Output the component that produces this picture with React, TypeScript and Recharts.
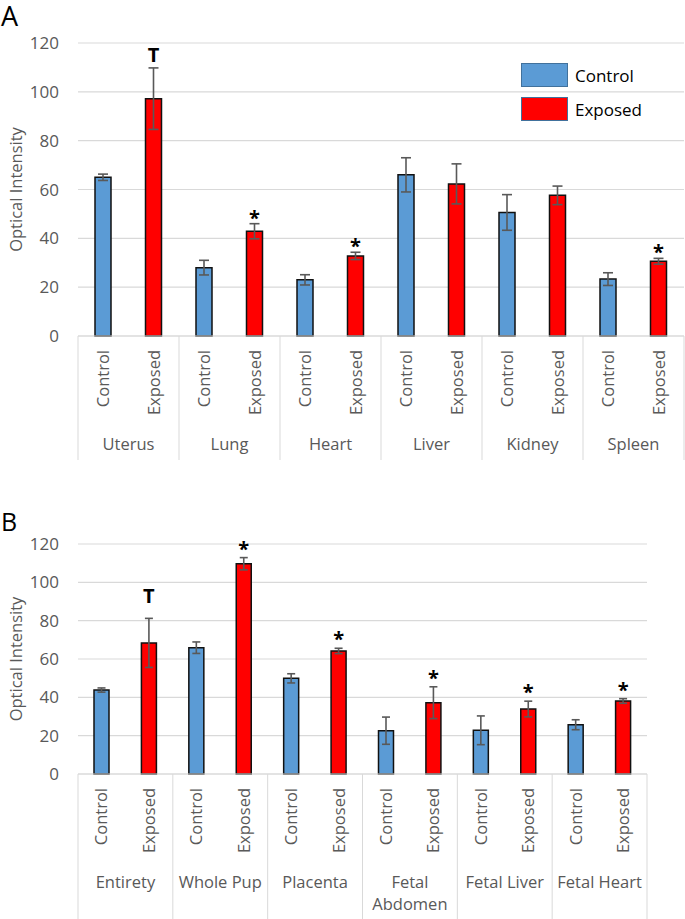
import React from "react";
import {
  BarChart,
  Bar,
  XAxis,
  YAxis,
  CartesianGrid,
  ErrorBar,
  LabelList,
} from "recharts";

const FONT = "'Open Sans', sans-serif";
const BLUE = "#5b9bd5";
const RED = "#ff0000";
const GRID = "#d9d9d9";
const TEXT = "#595959";

// series names (also used as the sub-category labels)
const seriesNames = ["Control", "Exposed"];
const yTicks = [0, 20, 40, 60, 80, 100, 120];

// panel A
const groupsA = ["Uterus", "Lung", "Heart", "Liver", "Kidney", "Spleen"];
const controlA = [65, 28, 23, 66, 50.6, 23.3];
const controlErrA = [1.3, 3, 2.1, 7, 7.3, 2.6];
const exposedA = [97.2, 42.9, 32.8, 62.3, 57.6, 30.6];
const exposedErrA = [12.6, 3.1, 1.5, 8.2, 3.8, 1.2];
const marksA = ["T", "*", "*", "", "", "*"];

// panel B
const groupsB = ["Entirety", "Whole Pup", "Placenta", "Fetal Abdomen", "Fetal Liver", "Fetal Heart"];
const controlB = [43.8, 65.9, 49.9, 22.6, 22.8, 25.7];
const controlErrB = [1.1, 3, 2.4, 7.1, 7.5, 2.6];
const exposedB = [68.4, 109.7, 64.2, 37.2, 33.9, 38.1];
const exposedErrB = [12.8, 3.2, 1.4, 8.3, 4.1, 1.2];
const marksB = ["T", "*", "*", "*", "*", "*"];

const makeTick = (band: number, lineLen: number) => (props: any) => {
  const { x, y, payload, index } = props;
  const name: string = payload.value;
  const lines = name.length > 12 ? name.split(" ") : [name];
  return (
    <g>
      {seriesNames.map((s, k) => {
        const cx = x + (k === 0 ? -band / 4 : band / 4);
        return (
          <text
            key={s}
            transform={`translate(${cx},${y + 14}) rotate(-90)`}
            textAnchor="end"
            dy="0.35em"
            fontSize={16.5}
            fontFamily={FONT}
            fill={TEXT}
          >
            {s}
          </text>
        );
      })}
      {lines.map((ln, k) => (
        <text
          key={ln}
          x={x}
          y={y + 114 + k * 22}
          textAnchor="middle"
          fontSize={16.5}
          fontFamily={FONT}
          fill={TEXT}
        >
          {ln}
        </text>
      ))}
      {index === 0 && (
        <line x1={x - band / 2} x2={x - band / 2} y1={y} y2={y + lineLen} stroke={GRID} />
      )}
      <line x1={x + band / 2} x2={x + band / 2} y1={y} y2={y + lineLen} stroke={GRID} />
    </g>
  );
};

const makeMark = (errs: number[], ppu: number, tGap: number, starShift: number) => (props: any) => {
  const vb = props.viewBox || {};
  const x = vb.x ?? props.x;
  const y = vb.y ?? props.y;
  const width = vb.width ?? props.width;
  const { value, index } = props;
  if (!value) return null;
  const top = y - errs[index] * ppu;
  const ty = value === "T" ? top - tGap : top + starShift;
  return (
    <text
      x={x + width / 2}
      y={ty}
      textAnchor="middle"
      fontSize={20}
      fontWeight="bold"
      fontFamily={FONT}
      fill="#000"
    >
      {value}
    </text>
  );
};

type PanelProps = {
  letter: string;
  groups: string[];
  control: number[];
  controlErr: number[];
  exposed: number[];
  exposedErr: number[];
  marks: string[];
  top: number;
  height: number;
  marginTop: number;
  marginRight: number;
  axisH: number;
  barSize: number;
  capW: number;
  tGap: number;
  starShift: number;
  letterTop: number;
  letterSize: number;
  legend: { left: number; top: number; w: number; h: number; step: number; fs: number };
};

const Panel = (p: PanelProps) => {
  const width = 685;
  const plotW = width - 78 - p.marginRight;
  const plotH = p.height - p.marginTop - p.axisH;
  const band = plotW / p.groups.length;
  const ppu = plotH / 120;
  const data = p.groups.map((g, i) => ({
    group: g,
    control: p.control[i],
    controlErr: p.controlErr[i],
    exposed: p.exposed[i],
    exposedErr: p.exposedErr[i],
    mark: p.marks[i],
  }));
  const labelY = p.marginTop + plotH / 2;
  const lg = p.legend;
  return (
    <div style={{ position: "absolute", left: 0, top: p.top, width, height: p.height }}>
      <div
        style={{
          position: "absolute",
          left: 1,
          top: p.letterTop,
          fontSize: p.letterSize,
          lineHeight: 1,
          fontFamily: FONT,
          color: "#000",
        }}
      >
        {p.letter}
      </div>
      <BarChart
        width={width}
        height={p.height}
        data={data}
        margin={{ top: p.marginTop, right: p.marginRight, left: 0, bottom: 0 }}
        barCategoryGap={0}
        barGap={band / 2 - p.barSize}
      >
        <CartesianGrid vertical={false} stroke={GRID} strokeWidth={1.2} />
        <XAxis
          dataKey="group"
          height={p.axisH}
          interval={0}
          tickLine={false}
          tickSize={0}
          tickMargin={0}
          axisLine={{ stroke: GRID, strokeWidth: 1.2 }}
          tick={makeTick(band, p.height - p.marginTop - plotH)}
        />
        <YAxis
          width={78}
          domain={[0, 120]}
          ticks={yTicks}
          interval={0}
          axisLine={false}
          tickLine={false}
          tickSize={0}
          tickMargin={19}
          tick={{ fill: TEXT, fontSize: 17, fontFamily: FONT }}
          label={{
            value: "Optical Intensity",
            content: () => (
              <text
                transform={`translate(16,${labelY}) rotate(-90)`}
                textAnchor="middle"
                dy="0.35em"
                fontSize={16.5}
                fontFamily={FONT}
                fill={TEXT}
              >
                Optical Intensity
              </text>
            ),
          }}
        />
        <Bar
          dataKey="control"
          name={seriesNames[0]}
          fill={BLUE}
          stroke="#111"
          strokeWidth={1.5}
          barSize={p.barSize}
          isAnimationActive={false}
        >
          <ErrorBar dataKey="controlErr" width={p.capW} stroke={TEXT} strokeWidth={1.6} />
        </Bar>
        <Bar
          dataKey="exposed"
          name={seriesNames[1]}
          fill={RED}
          stroke="#111"
          strokeWidth={1.5}
          barSize={p.barSize}
          isAnimationActive={false}
        >
          <ErrorBar dataKey="exposedErr" width={p.capW} stroke={TEXT} strokeWidth={1.6} />
          <LabelList dataKey="mark" content={makeMark(p.exposedErr, ppu, p.tGap, p.starShift)} />
        </Bar>
      </BarChart>
      {seriesNames.map((s, k) => (
        <div
          key={s}
          style={{
            position: "absolute",
            left: lg.left,
            top: lg.top + k * lg.step,
            height: lg.h,
            display: "flex",
            alignItems: "center",
            fontFamily: FONT,
            fontSize: lg.fs,
            color: "#000",
            whiteSpace: "nowrap",
          }}
        >
          <div
            style={{
              width: lg.w,
              height: lg.h,
              boxSizing: "border-box",
              background: k === 0 ? BLUE : RED,
              border: "1.5px solid #41719c",
              marginRight: 7,
            }}
          />
          {s}
        </div>
      ))}
    </div>
  );
};

export default function App() {
  return (
    <div style={{ position: "absolute", left: 0, top: 0, width: 685, height: 919, background: "#fff" }}>
      <Panel
        letter="A"
        groups={groupsA}
        control={controlA}
        controlErr={controlErrA}
        exposed={exposedA}
        exposedErr={exposedErrA}
        marks={marksA}
        top={0}
        height={460}
        marginTop={43}
        marginRight={1}
        axisH={124}
        barSize={16}
        capW={5}
        tGap={6}
        starShift={1}
        letterTop={2}
        letterSize={27}
        legend={{ left: 521, top: 63, w: 47, h: 24, step: 34, fs: 17 }}
      />
      <Panel
        letter="B"
        groups={groupsB}
        control={controlB}
        controlErr={controlErrB}
        exposed={exposedB}
        exposedErr={exposedErrB}
        marks={marksB}
        top={490}
        height={429}
        marginTop={54}
        marginRight={38}
        axisH={145}
        barSize={15}
        capW={4}
        tGap={15}
        starShift={-2}
        letterTop={19}
        letterSize={25}
        legend={{ left: 531, top: 556, w: 45, h: 23, step: 30, fs: 13.5 }}
      />
    </div>
  );
}
